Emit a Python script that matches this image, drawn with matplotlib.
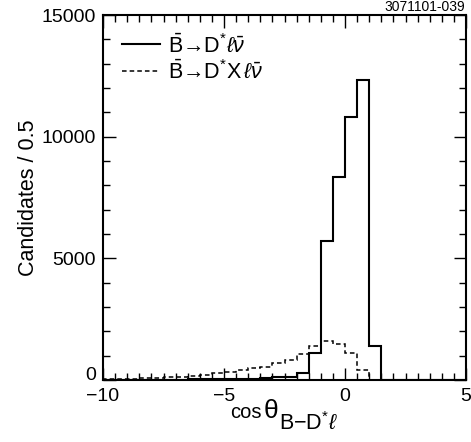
import numpy as np
import matplotlib.pyplot as plt
from matplotlib.ticker import MultipleLocator
from matplotlib.lines import Line2D

plt.rcParams['font.family'] = ['Liberation Sans', 'DejaVu Sans']
plt.rcParams['mathtext.fontset'] = 'custom'
plt.rcParams['mathtext.rm'] = 'Liberation Sans'
plt.rcParams['mathtext.it'] = 'Liberation Sans:italic'

W, H = 471, 442

# bin edges: -10 .. 5 in steps of 0.5
edges = np.arange(-10, 5.01, 0.5)

# B -> D* l nu (solid)
dstar_lnu = [5, 8, 10, 12, 15, 18, 20, 25, 30, 35,
             40, 50, 60, 70, 110, 137, 275, 1100, 5700, 8350,
             10800, 12330, 1400, 0, 0, 0, 0, 0, 0, 0]

# B -> D* X l nu (dashed)
dstar_x_lnu = [30, 40, 55, 70, 95, 125, 140, 165, 220, 275,
               330, 412, 507, 549, 714, 824, 1071, 1400, 1594, 1470,
               1125, 412, 0, 0, 0, 0, 0, 0, 0, 0]

xticks = [-10, -5, 0, 5]
xticklabels = ['\u221210', '\u22125', '0', '5']
yticks = [0, 5000, 10000, 15000]
yticklabels = ['0', '5000', '10000', '15000']

fig = plt.figure(figsize=(W / 100, H / 100), dpi=100)
ax = fig.add_axes([103 / W, 1 - 380 / H, 363 / W, 365 / H])

dash = (0, (3, 2))
ax.stairs(dstar_lnu, edges, color='black', linewidth=1.5)
ax.stairs(dstar_x_lnu, edges, color='black', linewidth=1.1, linestyle=dash)

ax.set_xlim(-10, 5)
ax.set_ylim(0, 15000)
ax.set_xticks(xticks)
ax.set_xticklabels(xticklabels)
ax.set_yticks(yticks)
ax.set_yticklabels(yticklabels)
ax.xaxis.set_minor_locator(MultipleLocator(0.5))
ax.yaxis.set_minor_locator(MultipleLocator(1000))
ax.tick_params(which='both', direction='in', top=True, right=True, labelsize=14, width=1)
ax.tick_params(which='major', length=9)
ax.tick_params(which='minor', length=5)
ax.tick_params(axis='x', pad=6)
ax.tick_params(axis='y', pad=5)
for s in ax.spines.values():
    s.set_linewidth(1.5)

# the "0" on y sits just above the x axis, like the original
ax.get_yticklabels()[0].set_va('baseline')

ax.set_ylabel('Candidates / 0.5', fontsize=15.5)
ax.yaxis.set_label_coords(-0.175, 0.5)

# x label, built from pieces: cos, big theta, low subscript
fig.text(230 / W, 1 - 418 / H, 'cos', fontsize=14.5, va='baseline', ha='left')
fig.text(264 / W, 1 - 418 / H, '\u03b8', fontsize=19, va='baseline', ha='left')
fig.text(279 / W, 1 - 430 / H, r'B$-$D$^{*}\ell$', fontsize=15.5, va='baseline', ha='left')

handles = [Line2D([], [], color='black', linewidth=1.5),
           Line2D([], [], color='black', linewidth=1.1, linestyle=dash)]
labels = [r'$\bar{\mathrm{B}}$' + '\u2192' + r'D$^{*}\ell\bar{\nu}$',
          r'$\bar{\mathrm{B}}$' + '\u2192' + r'D$^{*}$X$\,\ell\bar{\nu}$']
ax.legend(handles, labels, loc='upper left', frameon=False, fontsize=15.5,
          handlelength=1.75, handletextpad=0.35, borderaxespad=0.5, labelspacing=0.2)

fig.text(465 / W, 1.0, '3071101-039', ha='right', va='top', fontsize=10)

fig.savefig('out.png', dpi=100)
